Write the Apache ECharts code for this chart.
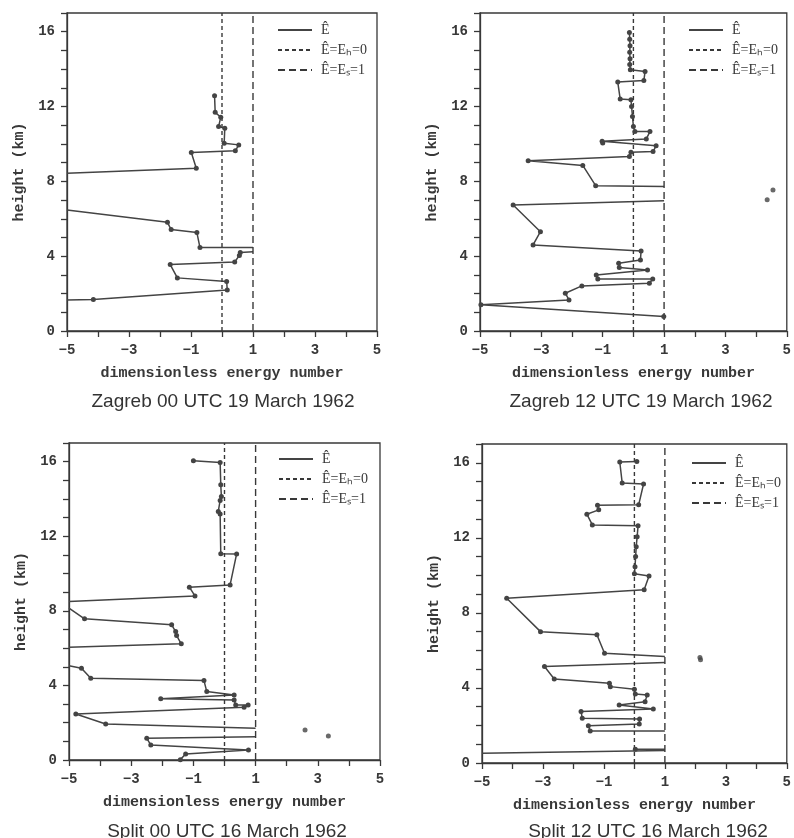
<!DOCTYPE html>
<html>
<head>
<meta charset="utf-8">
<script src="https://cdn.jsdelivr.net/npm/echarts@6/dist/echarts.min.js"></script>
<style>
  html, body { margin: 0; background: #fff; }
  #chart { width: 794px; height: 838px; }
</style>
</head>
<body>
<div id="chart"></div>
<script>
// energy number E (x) and height in km (h), read top -> bottom; null = gap in the line
var zag00E = [-0.24, -0.22, -0.04, -0.11, 0.09, 0.07, 0.54, 0.43, -0.99, -0.83, -5, null,
              -5, -1.76, -1.64, -0.81, -0.71, 1, null,
              1, 0.59, 0.56, 0.41, -1.67, -1.44, 0.15, 0.17, -4.15, -5];
var zag00H = [12.57, 11.69, 11.43, 10.93, 10.84, 10.04, 9.95, 9.63, 9.54, 8.70, 8.43, null,
              6.47, 5.81, 5.42, 5.26, 4.46, 4.46, null,
              4.24, 4.20, 4.04, 3.69, 3.55, 2.84, 2.65, 2.19, 1.69, 1.66];

var zag12E = [-0.13, -0.12, -0.11, -0.12, -0.11, -0.12, -0.10, 0.38, 0.34, -0.51, -0.43, -0.08,
              -0.06, -0.03, 0.00, 0.05, 0.54, 0.42, -1.02, -1.00, 0.74, 0.64, -0.08, -0.13,
              -3.43, -1.65, -1.23, 1, null,
              1, -3.92, -3.03, -3.27, 0.25, 0.23, -0.48, -0.46, 0.46, -1.21, -1.16, 0.63, 0.52,
              -1.68, -2.22, -2.10, -4.97, 0.99];
var zag12H = [15.96, 15.60, 15.25, 14.90, 14.55, 14.25, 13.96, 13.87, 13.39, 13.31, 12.40, 12.36,
              12.00, 11.47, 10.93, 10.66, 10.66, 10.27, 10.15, 10.05, 9.90, 9.59, 9.56, 9.33,
              9.10, 8.85, 7.77, 7.72, null,
              6.96, 6.74, 5.31, 4.60, 4.28, 3.80, 3.62, 3.39, 3.26, 3.00, 2.78, 2.78, 2.55,
              2.41, 2.02, 1.66, 1.40, 0.77];
var zag12DotE = [4.36, 4.55];
var zag12DotH = [7.01, 7.54];

var spl00E = [-1.00, -0.14, -0.12, -0.10, -0.14, -0.20, -0.14, -0.12, 0.39, 0.18, -1.13, -0.95, -5, null,
              -5, -4.50, -1.70, -1.57, -1.54, -1.39, -5, null,
              -5, -4.60, -4.30, -0.66, -0.57, 0.31, -2.05, 0.31, 0.36, 0.76, 0.63, -4.78, -3.82, 1, null,
              1, -2.50, -2.37, 0.77, -1.25, -1.42];
var spl00H = [16.05, 15.96, 14.76, 14.13, 13.92, 13.33, 13.19, 11.06, 11.05, 9.39, 9.27, 8.80, 8.50, null,
              8.14, 7.57, 7.25, 6.89, 6.67, 6.23, 6.05, null,
              5.05, 4.92, 4.38, 4.26, 3.67, 3.49, 3.29, 3.22, 2.95, 2.95, 2.83, 2.47, 1.93, 1.70, null,
              1.25, 1.16, 0.81, 0.54, 0.32, 0.02];
var spl00DotE = [2.59, 3.34];
var spl00DotH = [1.61, 1.29];

var spl12E = [0.08, -0.48, -0.40, 0.30, 0.14, -1.21, -1.17, -1.56, -1.38, 0.12, 0.09, 0.06, 0.04,
              0.02, 0.00, 0.48, 0.32, -4.19, -3.08, -1.23, -0.98, 1, null,
              1, -2.95, -2.63, -0.82, -0.79, 0.00, 0.03, 0.42, 0.35, -0.50, 0.62, -1.75, -1.71,
              0.17, 0.16, -1.51, -1.45, 1, null,
              -5, 1, null,
              0.03, 1];
var spl12H = [16.07, 16.04, 14.92, 14.87, 13.76, 13.73, 13.49, 13.26, 12.69, 12.64, 12.06, 11.53, 11.00,
              10.46, 10.08, 9.97, 9.23, 8.78, 7.00, 6.83, 5.85, 5.67, null,
              5.35, 5.14, 4.48, 4.25, 4.07, 3.93, 3.68, 3.63, 3.27, 3.09, 2.88, 2.74, 2.38,
              2.35, 2.08, 1.99, 1.71, 1.71, null,
              0.52, 0.66, null,
              0.73, 0.73];
var spl12DotE = [2.15, 2.17];
var spl12DotH = [5.62, 5.50];

// reference lines Ê = 0 and Ê = 1
var refHeights = [0, 17];
var zeroE = 0;
var oneE = 1;

var titles = ['Zagreb 00 UTC 19 March 1962', 'Zagreb 12 UTC 19 March 1962',
              'Split 00 UTC 16 March 1962', 'Split 12 UTC 16 March 1962'];
var legendNames = ['\u00ca', '\u00ca=E\u2095=0', '\u00ca=E\u209b=1'];

var panels = [
    { E: zag00E, H: zag00H, dotE: [], dotH: [] },
    { E: zag12E, H: zag12H, dotE: zag12DotE, dotH: zag12DotH },
    { E: spl00E, H: spl00H, dotE: spl00DotE, dotH: spl00DotH },
    { E: spl12E, H: spl12H, dotE: spl12DotE, dotH: spl12DotH }
];

// layout
var grids = [
    { left: 67, top: 13, width: 310, height: 318 },
    { left: 480, top: 13, width: 308, height: 318 },
    { left: 69, top: 443, width: 311, height: 317 },
    { left: 482, top: 444, width: 313, height: 319 }
];
var legendPos = [[272, 18], [683, 18], [273, 447], [686, 451]];
var titlePos = [[218, 387], [636, 387], [222, 817], [643, 817]];

var ink = '#383838';
var monoBold = { fontFamily: 'Liberation Mono', fontWeight: 'bold', color: ink };

function profileData(E, H) {
    var out = [];
    for (var i = 0; i < E.length; i++) {
        if (E[i] === null) { out.push({ value: ['-', '-'], symbol: 'none' }); continue; }
        // points where the curve leaves the frame carry no marker
        var edge = E[i] <= -5 || E[i] >= 1;
        out.push({ value: [E[i], H[i]], symbol: edge ? 'none' : 'circle' });
    }
    return out;
}

var option = {
    backgroundColor: '#fff',
    animation: false,
    title: [],
    legend: [],
    grid: [],
    xAxis: [],
    yAxis: [],
    series: []
};

panels.forEach(function (p, k) {
    option.grid.push({
        left: grids[k].left, top: grids[k].top, width: grids[k].width, height: grids[k].height,
        show: true, borderColor: ink, borderWidth: 1.3, backgroundColor: 'transparent'
    });
    option.title.push({
        text: titles[k], left: titlePos[k][0], top: titlePos[k][1], textAlign: 'center',
        textStyle: { fontFamily: 'Liberation Sans', fontWeight: 'normal', fontSize: 19, color: '#333' }
    });
    option.legend.push({
        orient: 'vertical', left: legendPos[k][0], top: legendPos[k][1],
        itemWidth: 34, itemHeight: 14, itemGap: 6,
        data: legendNames,
        selectedMode: false,
        itemStyle: { opacity: 0 },
        textStyle: { fontFamily: 'Liberation Serif', fontSize: 14, color: ink, padding: [0, 0, 0, 4] }
    });
    option.xAxis.push({
        gridIndex: k, type: 'value', min: -5, max: 5, interval: 1,
        name: 'dimensionless energy number', nameLocation: 'middle', nameGap: 35,
        nameTextStyle: Object.assign({ fontSize: 15 }, monoBold),
        axisLine: { onZero: false, lineStyle: { color: ink, width: 1.3 } },
        axisTick: { length: 6, lineStyle: { color: ink, width: 1.3 } },
        axisLabel: Object.assign({
            fontSize: 14, margin: 12,
            formatter: function (v) { return Math.abs(v) % 2 === 1 ? String(v).replace('-', '\u2212') : ''; }
        }, monoBold),
        splitLine: { show: false }
    });
    option.yAxis.push({
        gridIndex: k, type: 'value', min: 0, max: 17, interval: 1,
        name: 'height (km)', nameLocation: 'middle', nameGap: 40,
        nameTextStyle: Object.assign({ fontSize: 15 }, monoBold),
        axisLine: { onZero: false, lineStyle: { color: ink, width: 1.3 } },
        axisTick: { length: 6, lineStyle: { color: ink, width: 1.3 } },
        axisLabel: Object.assign({
            fontSize: 14, margin: 12,
            formatter: function (v) { return v % 4 === 0 && v <= 16 ? String(v) : ''; }
        }, monoBold),
        splitLine: { show: false }
    });

    option.series.push({
        name: legendNames[0], type: 'line', xAxisIndex: k, yAxisIndex: k,
        data: profileData(p.E, p.H),
        symbolSize: 5, connectNulls: false,
        lineStyle: { color: '#444', width: 1.5 },
        itemStyle: { color: '#444' }
    });
    option.series.push({
        name: legendNames[1], type: 'line', xAxisIndex: k, yAxisIndex: k,
        data: refHeights.map(function (h) { return [zeroE, h]; }),
        symbol: 'none',
        lineStyle: { color: ink, width: 1.4, type: [4, 3] }
    });
    option.series.push({
        name: legendNames[2], type: 'line', xAxisIndex: k, yAxisIndex: k,
        data: refHeights.map(function (h) { return [oneE, h]; }),
        symbol: 'none',
        lineStyle: { color: ink, width: 1.4, type: [7, 4] }
    });
    if (p.dotE.length) {
        option.series.push({
            name: 'outside', type: 'scatter', xAxisIndex: k, yAxisIndex: k,
            data: p.dotE.map(function (e, i) { return [e, p.dotH[i]]; }),
            symbolSize: 5, itemStyle: { color: '#444' }
        });
    }
});

var chart = echarts.init(document.getElementById('chart'), null, { renderer: 'canvas' });
chart.setOption(option);
</script>
</body>
</html>
